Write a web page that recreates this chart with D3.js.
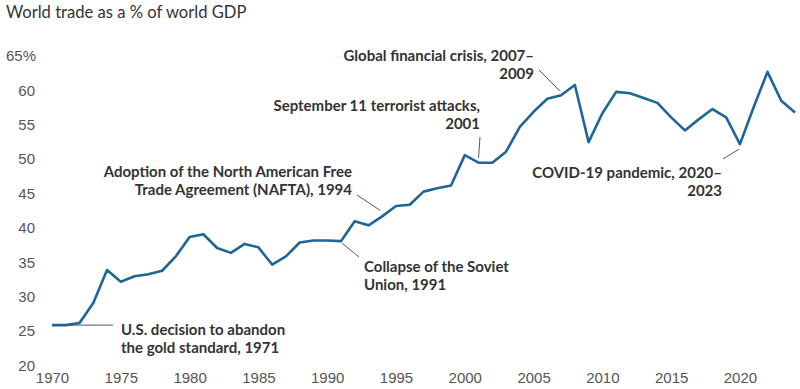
<!DOCTYPE html>
<html>
<head>
<meta charset="utf-8">
<script src="https://cdn.jsdelivr.net/npm/d3@7"></script>
<style>
  body { margin: 0; background: #fff; }
  svg { display: block; font-family: Lato, "Noto Sans", sans-serif; }
  .tick text { fill: #555; font-size: 15px; }
  .note { fill: #333; font-size: 15px; font-weight: 700; }
  .leader { stroke: #555; stroke-width: 1; }
</style>
</head>
<body>
<svg id="chart" width="800" height="389"></svg>
<script>
// years on the x axis
var years = d3.range(1970, 2025);

// world trade as % of world GDP
var tradeShare = [
  25.8, 25.8, 26.1, 29.0, 33.8, 32.1, 32.9, 33.2, 33.7, 35.8,
  38.6, 39.0, 37.0, 36.3, 37.6, 37.1, 34.6, 35.8, 37.8, 38.1,
  38.1, 38.0, 40.9, 40.3, 41.6, 43.1, 43.3, 45.2, 45.7, 46.1,
  50.5, 49.4, 49.4, 51.0, 54.6, 56.8, 58.7, 59.2, 60.7, 52.4,
  56.6, 59.7, 59.5, 58.8, 58.1, 56.0, 54.1, 55.7, 57.2, 56.0,
  52.1, 57.5, 62.6, 58.4, 56.7
];

var yTicks = [20, 25, 30, 35, 40, 45, 50, 55, 60, 65];
var xTicks = [1970, 1975, 1980, 1985, 1990, 1995, 2000, 2005, 2010, 2015, 2020];

// annotation texts and the year each one points at
var noteYears = [1971, 1994, 1991, 2001, 2007, 2020];
var noteLines = [
  ["U.S. decision to abandon", "the gold standard, 1971"],
  ["Adoption of the North American Free", "Trade Agreement (NAFTA), 1994"],
  ["Collapse of the Soviet", "Union, 1991"],
  ["September 11 terrorist attacks,", "2001"],
  ["Global financial crisis, 2007\u2013", "2009"],
  ["COVID-19 pandemic, 2020\u2013", "2023"]
];

var data = years.map(function(yr, i){ return {year: yr, value: tradeShare[i]}; });

var svg = d3.select("#chart");

var x = d3.scaleLinear().domain([1970, 2024]).range([52, 795]);
var y = d3.scaleLinear().domain([20, 65]).range([365, 55.4]);

// title
svg.append("text")
  .attr("x", 6)
  .attr("y", 18)
  .attr("fill", "#333")
  .style("font-size", "16.6px")
  .text("World trade as a % of world GDP");

// y axis labels only
var yAxis = svg.append("g")
  .attr("transform", "translate(35,0)")
  .call(d3.axisLeft(y).tickValues(yTicks).tickSize(0).tickPadding(0)
    .tickFormat(function(d){ return d === 65 ? d + "%" : d; }));
yAxis.select(".domain").remove();
yAxis.selectAll("text").attr("dy", "0.35em").attr("x", 0);
yAxis.selectAll(".tick").filter(function(d){ return d === 65; })
  .select("text").attr("x", 1);

// x axis labels only
var xAxis = svg.append("g")
  .attr("transform", "translate(0,372)")
  .call(d3.axisBottom(x).tickValues(xTicks).tickSize(0).tickPadding(0)
    .tickFormat(d3.format("d")));
xAxis.select(".domain").remove();
xAxis.selectAll("text").attr("dy", "0.71em");

// the line
var line = d3.line()
  .x(function(d){ return x(d.year); })
  .y(function(d){ return y(d.value); });

svg.append("path")
  .datum(data)
  .attr("fill", "none")
  .attr("stroke", "#1f6596")
  .attr("stroke-width", 2.6)
  .attr("stroke-linejoin", "round")
  .attr("d", line);

// layout of each note: text anchor point, alignment, leader start/end offsets
var noteLayout = [
  {tx: 121, ty: 335, anchor: "start", from: [0, 0], to: [113, 0], horiz: true},
  {tx: 352, ty: 177, anchor: "end", from: [357, 195], to: [-2, -6]},
  {tx: 364, ty: 272, anchor: "start", from: [359, 257], to: [1, 2]},
  {tx: 480, ty: 111, anchor: "end", from: [480, 137], to: [0, -5]},
  {tx: 534, ty: 61, anchor: "end", from: [539, 70], to: [-1, -4]},
  {tx: 722, ty: 178, anchor: "end", from: [723, 159], to: [-1, 5]}
];

var notes = svg.append("g").attr("class", "notes");

noteLines.forEach(function(lines, i){
  var lay = noteLayout[i];
  var yr = noteYears[i];
  var v = tradeShare[years.indexOf(yr)];
  var px = x(yr), py = y(v);

  var t = notes.append("text")
    .attr("class", "note")
    .attr("text-anchor", lay.anchor);
  lines.forEach(function(s, k){
    t.append("tspan")
      .attr("x", lay.tx)
      .attr("y", lay.ty + k * 17.5)
      .text(s);
  });

  if (lay.horiz) {
    notes.append("line")
      .attr("class", "leader")
      .attr("stroke-width", 1.6)
      .attr("stroke", "#333")
      .attr("x1", px)
      .attr("x2", lay.to[0])
      .attr("y1", py)
      .attr("y2", py);
  } else {
    notes.append("line")
      .attr("class", "leader")
      .attr("x1", lay.from[0])
      .attr("y1", lay.from[1])
      .attr("x2", px + lay.to[0])
      .attr("y2", py + lay.to[1]);
  }
});
</script>
</body>
</html>
